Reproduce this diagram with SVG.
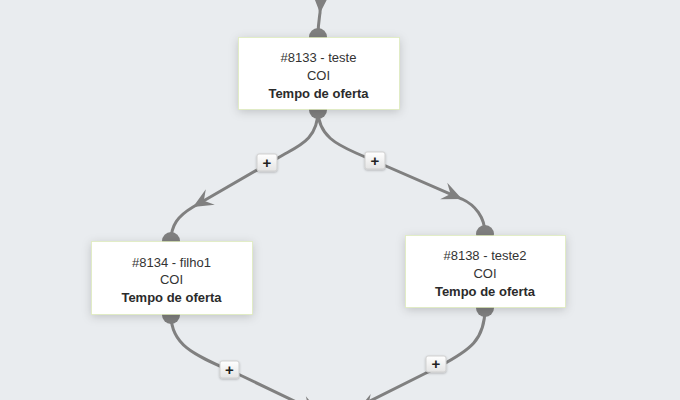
<svg xmlns="http://www.w3.org/2000/svg" width="680" height="400" viewBox="0 0 680 400">
<defs>
<style>
.bg{fill:#e9ecef}
.conn{fill:none;stroke:#808080;stroke-width:3}
.ep{fill:#808080}
.arr{fill:#808080}
.box{fill:#ffffff;stroke:#d3e69b;stroke-width:1;stroke-dasharray:1 1;filter:url(#sh)}
.t{font-family:"Liberation Sans",Arial,sans-serif;font-size:13px;fill:#333;text-anchor:middle}
.b{font-weight:bold;fill:#2b2b2b}
.lbl{fill:url(#lg);stroke:#cfcfcf;stroke-width:1;filter:url(#sh2)}
.plus{font-family:"Liberation Sans",Arial,sans-serif;font-size:15px;font-weight:bold;fill:#222;text-anchor:middle}
</style>
<linearGradient id="lg" x1="0" y1="0" x2="0" y2="1">
<stop offset="0" stop-color="#ffffff"/>
<stop offset="1" stop-color="#e4e4e4"/>
</linearGradient>
<filter id="sh" x="-20%" y="-30%" width="140%" height="160%">
<feDropShadow dx="0" dy="2" stdDeviation="5" flood-color="#000" flood-opacity="0.18"/>
</filter>
<filter id="sh2" x="-40%" y="-40%" width="180%" height="180%">
<feDropShadow dx="0" dy="1" stdDeviation="1.2" flood-color="#000" flood-opacity="0.25"/>
</filter>
<path id="ah" d="M0,0 L-20,-9 L-12.5,0 L-20,9 Z"/>
</defs>
<rect class="bg" x="0" y="0" width="680" height="400"/>

<g id="connectors">
<path class="conn" d="M321,-10 L320,13 C319,20 318,25 318,37"/>
<use href="#ah" class="arr" transform="translate(320,13) rotate(93)"/>

<path class="conn" d="M318,110 C318,138 301,145 283,155 L193,207 C178,216 171,225 171,241"/>
<use href="#ah" class="arr" transform="translate(193,207) rotate(150)"/>
<g id="lbl1"><rect class="lbl" x="257" y="154" width="20" height="17" rx="2"/><text class="plus" x="267" y="168">+</text></g>

<path class="conn" d="M318,110 C318,136 338,145 356,153 L462,199 C475,205 485,217 485,234"/>
<use href="#ah" class="arr" transform="translate(462,199) rotate(23.5)"/>
<g id="lbl2"><rect class="lbl" x="365" y="152" width="20" height="17" rx="2"/><text class="plus" x="375" y="166">+</text></g>

<path class="conn" d="M171,315 C171,348 200,357 240,375 L340,423"/>
<use href="#ah" class="arr" transform="translate(320,413) rotate(25.6)"/>
<g id="lbl3"><rect class="lbl" x="220" y="361" width="19" height="17" rx="2"/><text class="plus" x="229.5" y="375">+</text></g>

<path class="conn" d="M485,308 C485,340 470,350 440,366 L330,421"/>
<use href="#ah" class="arr" transform="translate(357,411) rotate(153)"/>
<g id="lbl4"><rect class="lbl" x="426" y="356" width="20" height="16" rx="2"/><text class="plus" x="436" y="369">+</text></g>
</g>

<g id="n8133">
<circle class="ep" cx="318" cy="37" r="9"/>
<circle class="ep" cx="318" cy="110" r="9"/>
<rect class="box" x="238.5" y="37.5" width="161" height="72"/>
<text class="t" x="318.5" y="62">#8133 - teste</text>
<text class="t" x="318.5" y="80">COI</text>
<text class="t b" x="318.5" y="98">Tempo de oferta</text>
</g>

<g id="n8134">
<circle class="ep" cx="171" cy="241" r="9"/>
<circle class="ep" cx="171" cy="315" r="9"/>
<rect class="box" x="91.5" y="241.5" width="161" height="73"/>
<text class="t" x="171.5" y="267">#8134 - filho1</text>
<text class="t" x="171.5" y="284">COI</text>
<text class="t b" x="171.5" y="302">Tempo de oferta</text>
</g>

<g id="n8138">
<circle class="ep" cx="485" cy="234" r="9"/>
<circle class="ep" cx="485" cy="308" r="9"/>
<rect class="box" x="405.5" y="235.5" width="160" height="72"/>
<text class="t" x="485" y="260">#8138 - teste2</text>
<text class="t" x="485" y="278">COI</text>
<text class="t b" x="485" y="296">Tempo de oferta</text>
</g>
</svg>
